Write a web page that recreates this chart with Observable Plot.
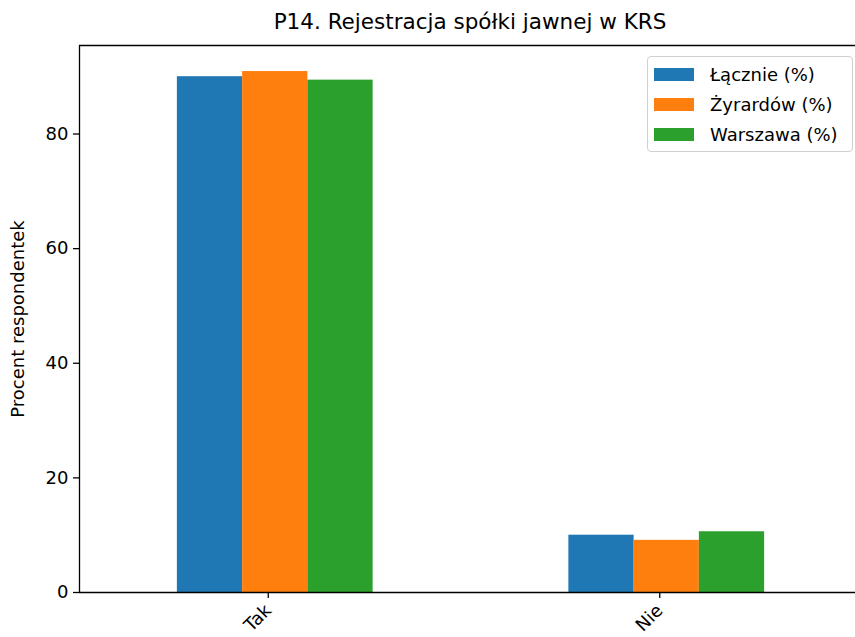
<!DOCTYPE html>
<html>
<head>
<meta charset="utf-8">
<script src="https://cdn.jsdelivr.net/npm/d3@7"></script>
<script src="https://cdn.jsdelivr.net/npm/@observablehq/plot@0.6"></script>
<style>
  html, body { margin: 0; padding: 0; background: #fff; }
  #wrap { position: relative; width: 855px; height: 637px; overflow: hidden; font-family: "DejaVu Sans", sans-serif; }
  #chart svg { max-width: none !important; }
  #title { position: absolute; top: 9px; left: 0; width: 940px; text-align: center; font-size: 21.5px; color: #000; white-space: nowrap; }
  #legend { position: absolute; left: 647px; top: 56px; width: 206px; height: 96px; border: 1px solid #d0d0d0; border-radius: 4px; background: rgba(255,255,255,0.85); box-sizing: border-box; padding-top: 2px; }
  .row { display: flex; align-items: center; height: 30px; font-size: 18px; color: #000; }
  .sw { width: 40px; height: 13px; margin-left: 6px; margin-right: 16px; }
</style>
</head>
<body>
<div id="wrap">
  <div id="chart"></div>
  <div id="title"></div>
  <div id="legend"></div>
</div>
<script>
const title = "P14. Rejestracja spółki jawnej w KRS";
const yLabel = "Procent respondentek";
const categories = ["Tak", "Nie"];
const series = ["Łącznie (%)", "Żyrardów (%)", "Warszawa (%)"];
const lacznie = [90.0, 10.0];
const zyrardow = [90.9, 9.1];
const warszawa = [89.4, 10.6];
const yTicks = [0, 20, 40, 60, 80];
const colors = ["#1f77b4", "#ff7f0e", "#2ca02c"];

const seriesValues = [lacznie, zyrardow, warszawa];
const data = categories.flatMap((c, i) =>
  series.map((s, j) => ({category: c, index: i, series: s, j, value: seriesValues[j][i]}))
);
const yMax = d3.max(data, d => d.value) * 1.05;
const groupWidth = 0.5;
const barW = groupWidth / series.length;

const chart = Plot.plot({
  width: 862,
  height: 637,
  marginTop: 45,
  marginBottom: 45,
  marginLeft: 79,
  marginRight: 0,
  style: {fontFamily: "DejaVu Sans, sans-serif", fontSize: "18px", color: "#000", background: "#fff", overflow: "visible", maxWidth: "none"},
  x: {type: "linear", domain: [-0.5, categories.length - 0.5]},
  y: {domain: [0, yMax]},
  color: {domain: series, range: colors},
  marks: [
    Plot.rectY(data, {
      x1: d => d.index - groupWidth / 2 + d.j * barW,
      x2: d => d.index - groupWidth / 2 + (d.j + 1) * barW,
      y: "value",
      fill: "series"
    }),
    Plot.ruleY([0, yMax], {stroke: "#000", strokeWidth: 1.3}),
    Plot.ruleX([-0.5], {stroke: "#000", strokeWidth: 1.3}),
    Plot.axisY({
      ticks: yTicks,
      tickSize: 6,
      tickPadding: 5,
      fontSize: 18,
      label: yLabel,
      labelAnchor: "center",
      labelArrow: "none",
      labelOffset: 68,
      stroke: "#000",
      strokeWidth: 1.3
    }),
    Plot.axisX({
      ticks: categories.map((c, i) => i),
      tickFormat: i => categories[i],
      tickRotate: -45,
      tickSize: 6,
      tickPadding: 9,
      dx: -7,
      fontSize: 18,
      label: null,
      stroke: "#000",
      strokeWidth: 1.3
    })
  ]
});
chart.style.maxWidth = "none";
document.getElementById("chart").appendChild(chart);
document.getElementById("title").textContent = title;

const legend = document.getElementById("legend");
series.forEach((s, j) => {
  const row = document.createElement("div");
  row.className = "row";
  const sw = document.createElement("div");
  sw.className = "sw";
  sw.style.background = colors[j];
  const t = document.createElement("span");
  t.textContent = s;
  row.appendChild(sw);
  row.appendChild(t);
  legend.appendChild(row);
});
</script>
</body>
</html>
